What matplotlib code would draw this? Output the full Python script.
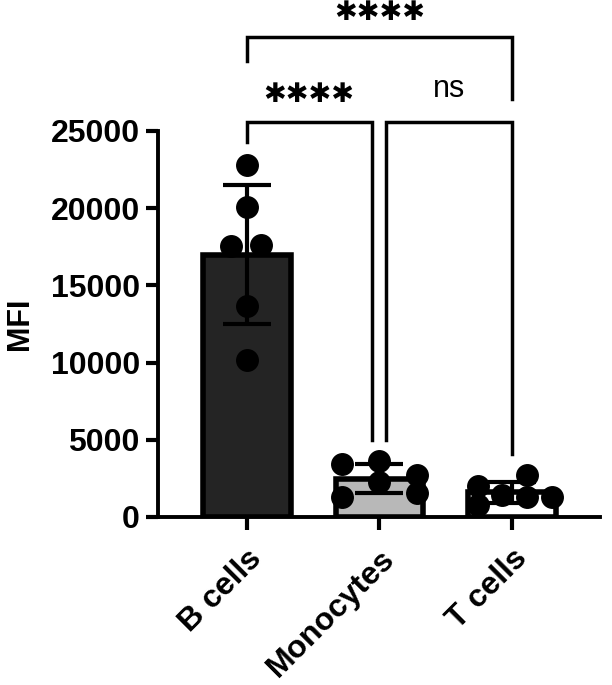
import numpy as np
import matplotlib
matplotlib.use("Agg")
import matplotlib.pyplot as plt

# data
groups = ["B cells", "Monocytes", "T cells"]
b_cells = [22800, 20080, 17550, 17600, 13680, 10170]
monocytes = [3400, 3650, 2250, 2750, 1550, 1300]
t_cells = [2000, 780, 1420, 2720, 1300, 1300]
bar_colors = ["#242424", "#b8b8b8", "#ffffff"]

# horizontal scatter of the dots (layout only)
jitter = [
    [0, 0, -0.12, 0.11, 0, 0],
    [-0.28, 0, 0, 0.28, 0.28, -0.28],
    [-0.26, -0.26, -0.08, 0.11, 0.11, 0.30],
]

# comparisons: (left x, right x, bracket y, left leg end, right leg end, label, label y)
brackets = [
    (0, 2, 31100, 29500, 27100, "****", 32650),
    (0, 0.94, 25600, 24300, 5000, "****", 27350),
    (1.05, 2, 25600, 5000, 4100, "ns", 27700),
]

plt.rcParams["font.family"] = ["Liberation Sans", "DejaVu Sans"]

fig = plt.figure(figsize=(6.12, 6.85), dpi=100)
ax = fig.add_axes([0.258, 0.2453, 0.722, 0.5635])

series = [b_cells, monocytes, t_cells]
x = np.arange(len(groups))
means = [np.mean(s) for s in series]
sds = [np.std(s, ddof=1) for s in series]

ax.bar(x, means, width=0.66, color=bar_colors, edgecolor="black", linewidth=4, zorder=1)
ax.errorbar(x, means, yerr=sds, fmt="none", ecolor="black", elinewidth=3,
            capsize=17, capthick=3, zorder=2)
for i, s in enumerate(series):
    ax.scatter(x[i] + np.array(jitter[i]), s, s=240, color="black", zorder=3, clip_on=False)

for x1, x2, yb, yl, yr, lab, ly in brackets:
    ax.plot([x1, x1, x2, x2], [yl, yb, yb, yr], color="black", lw=2.5, clip_on=False,
            solid_joinstyle="miter")
    if lab == "ns":
        ax.text((x1 + x2) / 2, ly, lab, ha="center", va="center", fontsize=22)
    else:
        ax.text((x1 + x2) / 2, ly, lab.replace("*", "\u2731"), ha="center", va="center",
                fontsize=19.5, family="DejaVu Sans")

ax.set_xlim(-0.67, 2.66)
ax.set_ylim(0, 25000)
ax.set_yticks([0, 5000, 10000, 15000, 20000, 25000])
ax.set_xticks(x)
ax.set_xticklabels(groups, rotation=45, ha="right", va="top", rotation_mode="anchor",
                   fontsize=23, fontweight="bold")
for lab in ax.get_yticklabels():
    lab.set_fontsize(23)
    lab.set_fontweight("bold")
ax.set_ylabel("MFI", fontsize=22, fontweight="bold", labelpad=11)

ax.spines["top"].set_visible(False)
ax.spines["right"].set_visible(False)
ax.spines["left"].set_linewidth(2.8)
ax.spines["bottom"].set_linewidth(2.8)
ax.tick_params(axis="y", length=9, width=3, pad=4)
ax.tick_params(axis="x", length=9, width=3, pad=10)

fig.savefig("out.png", dpi=100)
